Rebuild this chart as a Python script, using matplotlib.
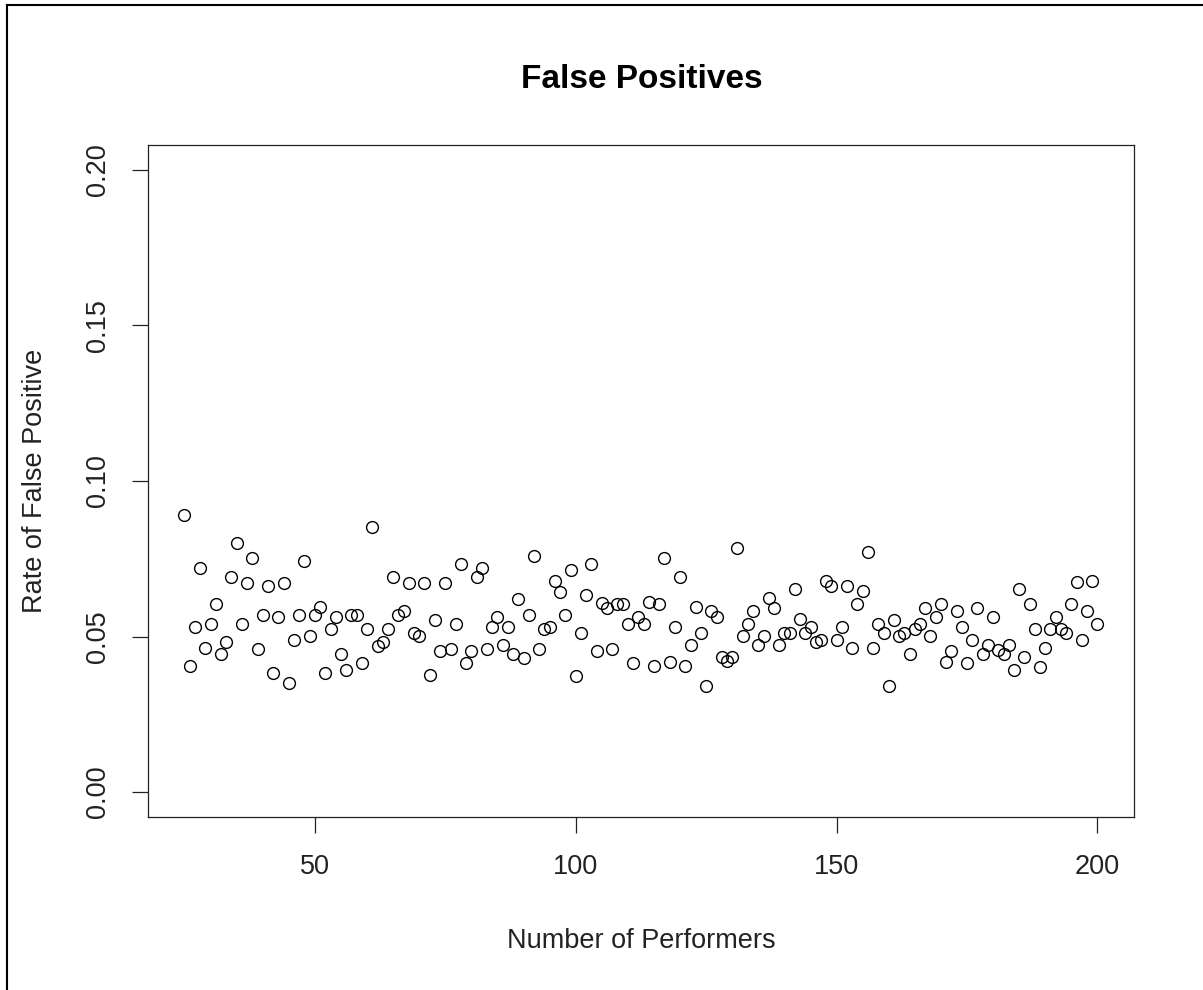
import matplotlib.pyplot as plt
from matplotlib.lines import Line2D

# number of performers on the x axis
performers = list(range(25, 201))

# false positive rate for each number of performers
fp_25_53 = [0.0891, 0.0405, 0.0530, 0.0719, 0.0462, 0.0540, 0.0605, 0.0444, 0.0483, 0.0690,
            0.0800, 0.0540, 0.0673, 0.0753, 0.0460, 0.0569, 0.0662, 0.0382, 0.0564, 0.0673,
            0.0351, 0.0489, 0.0569, 0.0743, 0.0502, 0.0569, 0.0594, 0.0383, 0.0525]
fp_54_83 = [0.0564, 0.0444, 0.0392, 0.0569, 0.0569, 0.0416, 0.0524, 0.0851, 0.0471, 0.0483,
            0.0524, 0.0690, 0.0569, 0.0583, 0.0673, 0.0513, 0.0502, 0.0673, 0.0376, 0.0553,
            0.0454, 0.0673, 0.0460, 0.0540, 0.0732, 0.0416, 0.0454, 0.0690, 0.0719, 0.0460]
fp_84_111 = [0.0530, 0.0564, 0.0473, 0.0530, 0.0444, 0.0621, 0.0432, 0.0569, 0.0760, 0.0460,
             0.0524, 0.0530, 0.0680, 0.0644, 0.0569, 0.0714, 0.0374, 0.0512, 0.0633, 0.0732,
             0.0454, 0.0607, 0.0593, 0.0460, 0.0605, 0.0605, 0.0540, 0.0416]
fp_112_142 = [0.0564, 0.0540, 0.0612, 0.0405, 0.0605, 0.0753, 0.0419, 0.0530, 0.0690, 0.0405,
              0.0473, 0.0594, 0.0512, 0.0341, 0.0583, 0.0564, 0.0435, 0.0422, 0.0435, 0.0784,
              0.0502, 0.0540, 0.0583, 0.0473, 0.0502, 0.0623, 0.0593, 0.0473, 0.0512, 0.0512,
              0.0652]
fp_143_170 = [0.0556, 0.0512, 0.0530, 0.0483, 0.0490, 0.0680, 0.0662, 0.0489, 0.0530, 0.0662,
              0.0462, 0.0605, 0.0646, 0.0771, 0.0462, 0.0542, 0.0512, 0.0341, 0.0553, 0.0502,
              0.0512, 0.0444, 0.0526, 0.0540, 0.0593, 0.0502, 0.0564, 0.0605]
fp_171_200 = [0.0419, 0.0455, 0.0582, 0.0530, 0.0416, 0.0489, 0.0593, 0.0444, 0.0473, 0.0564,
              0.0457, 0.0444, 0.0473, 0.0392, 0.0652, 0.0433, 0.0605, 0.0524, 0.0403, 0.0462,
              0.0524, 0.0564, 0.0526, 0.0512, 0.0605, 0.0674, 0.0489, 0.0582, 0.0680, 0.0540]
fp_rate = fp_25_53 + fp_54_83 + fp_84_111 + fp_112_142 + fp_143_170 + fp_171_200

x_ticks = [50, 100, 150, 200]
y_ticks = [0.00, 0.05, 0.10, 0.15, 0.20]
y_tick_labels = ['0.00', '0.05', '0.10', '0.15', '0.20']

plt.rcParams['font.family'] = ['Liberation Sans', 'DejaVu Sans']

fig = plt.figure(figsize=(12.03, 9.90), dpi=100)
ax = fig.add_axes([0.1230, 0.1747, 0.8196, 0.6788])

# open circles, like a default R scatter plot
ax.plot(performers, fp_rate, linestyle='none', marker='o', markersize=8.5,
        markerfacecolor='none', markeredgecolor='black', markeredgewidth=1.0)

ax.set_xlim(18, 207)
ax.set_ylim(-0.008, 0.208)
ax.set_xticks(x_ticks)
ax.set_yticks(y_ticks)
ax.set_yticklabels(y_tick_labels, rotation=90, va='center')
ax.tick_params(direction='out', length=11.5, width=0.9, pad=15, labelsize=19.5, colors='#222222')
for side in ax.spines.values():
    side.set_linewidth(0.9)
    side.set_color('#222222')

fig.text(641.5 / 1203, 1 - 88 / 990, 'False Positives', ha='center', va='baseline',
         fontsize=24, fontweight='bold')
fig.text(641.5 / 1203, 1 - 948 / 990, 'Number of Performers', ha='center', va='baseline',
         fontsize=19.5, color='#222222')
fig.text(42 / 1203, 1 - 481 / 990, 'Rate of False Positive', ha='center', va='baseline',
         rotation=90, rotation_mode='anchor', fontsize=19.5, color='#222222')

# frame lines along the left and top edges
fig.add_artist(Line2D([7 / 1203, 7 / 1203], [0, 1 - 5 / 990], transform=fig.transFigure,
                      color='black', linewidth=1.5))
fig.add_artist(Line2D([7 / 1203, 1], [1 - 5 / 990, 1 - 5 / 990], transform=fig.transFigure,
                      color='black', linewidth=1.5))

fig.savefig('out.png', dpi=100)
